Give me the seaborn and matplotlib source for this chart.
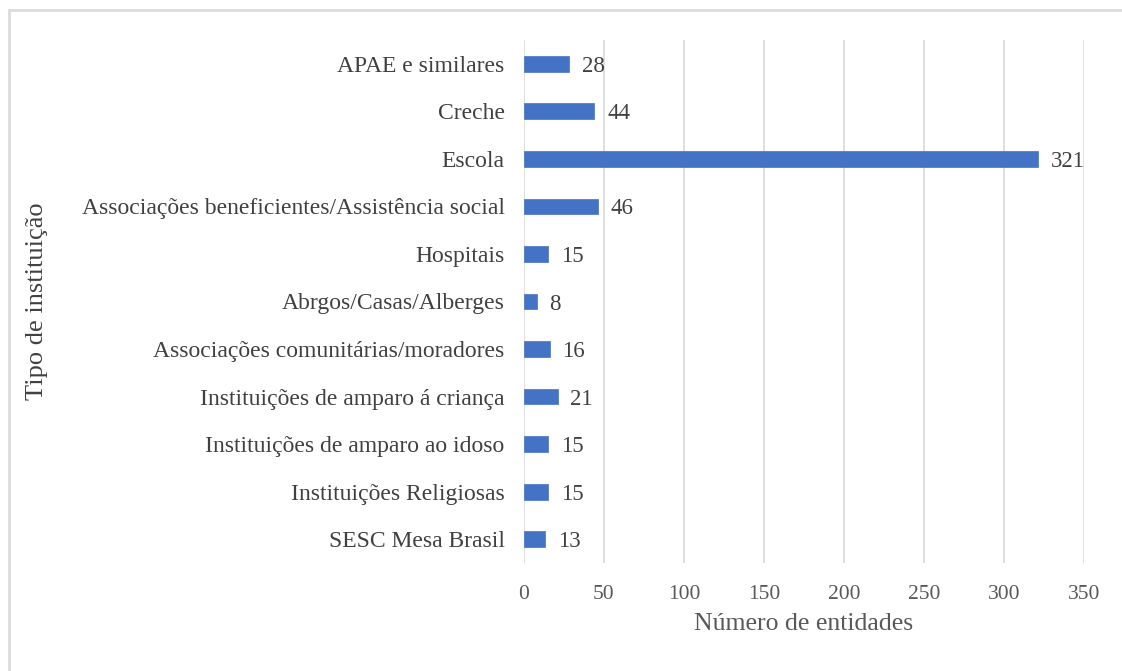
import matplotlib
matplotlib.use("Agg")
import matplotlib.pyplot as plt
from matplotlib.patches import Rectangle
import seaborn as sns
import pandas as pd

categorias = [
    "APAE e similares",
    "Creche",
    "Escola",
    "Associações beneficientes/Assistência social",
    "Hospitais",
    "Abrgos/Casas/Alberges",
    "Associações comunitárias/moradores",
    "Instituições de amparo á criança",
    "Instituições de amparo ao idoso",
    "Instituições Religiosas",
    "SESC Mesa Brasil",
]
entidades = [28, 44, 321, 46, 15, 8, 16, 21, 15, 15, 13]
ticks_x = [0, 50, 100, 150, 200, 250, 300, 350]

df = pd.DataFrame({"Tipo de instituição": categorias, "Número de entidades": entidades})

sns.set_theme(style="white")
plt.rcParams["font.family"] = ["Liberation Serif", "DejaVu Serif"]

fig = plt.figure(figsize=(11.22, 6.71), dpi=100)
ax = fig.add_axes([524 / 1122, 1 - 563 / 671, 560 / 1122, 523 / 671])

sns.barplot(data=df, y="Tipo de instituição", x="Número de entidades",
            orient="h", color="#4472C4", saturation=1, width=0.33, ax=ax,
            edgecolor="#4472C4", linewidth=0.5)

ax.set_xlim(0, 350)
ax.set_xticks(ticks_x)
ax.grid(axis="x", color="#d9d9d9", linewidth=1.2)
ax.set_axisbelow(True)
for s in ax.spines.values():
    s.set_visible(False)

txt = "#404040"
ax.tick_params(axis="x", length=0, pad=16, labelsize=15.5, labelcolor="#595959")
ax.tick_params(axis="y", length=0, pad=14, labelsize=17, labelcolor=txt)
ax.set_xlabel("Número de entidades", fontsize=18.5, color="#595959", labelpad=6)
ax.set_ylabel("Tipo de instituição", fontsize=19, color=txt)
ax.yaxis.set_label_coords(-0.85, 0.5, transform=ax.transAxes)

for i, v in enumerate(entidades):
    ax.text(v + 8, i, str(v), va="center_baseline", ha="left", fontsize=16.5, color=txt)

# outer frame
fig.patches.append(Rectangle((9 / 1122, -0.1), 1.2, 1 - 10 / 671 + 0.1,
                             transform=fig.transFigure, fill=False,
                             edgecolor="#dcdcdc", linewidth=2, clip_on=False))

fig.savefig("out.png", dpi=100)
